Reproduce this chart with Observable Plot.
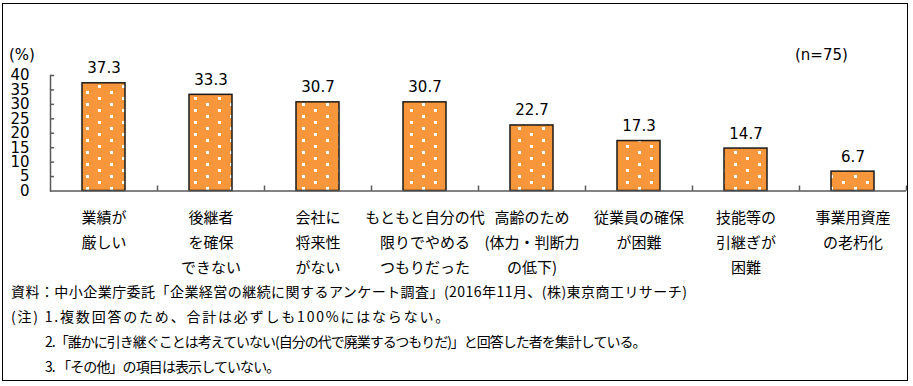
<!DOCTYPE html>
<html><head><meta charset="utf-8">
<script src="https://cdn.jsdelivr.net/npm/d3@7"></script>
<script src="https://cdn.jsdelivr.net/npm/@observablehq/plot@0.6"></script>
<style>
body{margin:0;background:#fff;}
#wrap{position:relative;width:913px;height:386px;overflow:hidden;font-family:"Noto Sans CJK JP",sans-serif;}
#border{position:absolute;left:2px;top:3px;width:906px;height:378px;border:1.5px solid #000;box-sizing:border-box;}
.t{position:absolute;white-space:nowrap;color:#000;line-height:20px;}
.f{font-size:14px;}
.n{font-family:"DejaVu Sans",sans-serif;font-size:15px;}
</style></head><body>
<div id="wrap">
 <div id="chart" style="position:absolute;left:0;top:0"></div>
 <div id="border"></div>
 <div class="t n" style="left:9px;top:45px">(%)</div>
 <div class="t n" style="left:795px;top:45px">(n=75)</div>
 <div class="t f" style="left:11px;top:281px;letter-spacing:0.45px">資料：中小企業庁委託「企業経営の継続に関するアンケート調査」(2016年11月、(株)東京商工リサーチ)</div>
 <div class="t f" style="left:11px;top:306px;letter-spacing:1.8px">(注) 1.複数回答のため、合計は必ずしも100%にはならない。</div>
 <div class="t f" style="left:45px;top:331px;letter-spacing:-1px">2.「誰かに引き継ぐことは考えていない(自分の代で廃業するつもりだ)」と回答した者を集計している。</div>
 <div class="t f" style="left:45px;top:356px;letter-spacing:-0.9px">3. 「その他」の項目は表示していない。</div>
</div>
<script>
const categories = [
  "業績が\n厳しい",
  "後継者\nを確保\nできない",
  "会社に\n将来性\nがない",
  "もともと自分の代\n限りでやめる\nつもりだった",
  "高齢のため\n(体力・判断力\nの低下)",
  "従業員の確保\nが困難",
  "技能等の\n引継ぎが\n困難",
  "事業用資産\nの老朽化"
];
const values = [37.3, 33.3, 30.7, 30.7, 22.7, 17.3, 14.7, 6.7];
const yTicks = [0, 5, 10, 15, 20, 25, 30, 35, 40];

const data = categories.map((c, i) => ({cat: c, value: values[i]}));

const W = 913, H = 285, mL = 50, mR = 7, mT = 75, mB = 94.5;
const frameW = W - mL - mR, frameH = H - mT - mB;
const step = frameW / categories.length;

const plot = Plot.plot({
  width: W, height: H,
  marginLeft: mL, marginRight: mR, marginTop: mT, marginBottom: mB,
  style: {fontFamily: "'DejaVu Sans', sans-serif", fontSize: "15px", color: "#000", background: "transparent"},
  x: {domain: categories, paddingInner: 0.6, paddingOuter: 0.3, label: null},
  y: {domain: [0, 40], label: null},
  marks: [
    Plot.barY(data, {x: "cat", y: "value", fill: "url(#dots)", stroke: "#1a1a1a", strokeWidth: 1.5}),
    Plot.text(data, {x: "cat", y: "value", text: d => d.value.toFixed(1), lineAnchor: "bottom", dy: -10, fontSize: 15, fill: "#000"}),
    Plot.tickY(yTicks.slice(1), {y: d => d, insetRight: frameW - 4, stroke: "#595959", strokeWidth: 1.5}),
    Plot.tickX(categories, {x: d => d, dx: step / 2, insetTop: frameH - 5, stroke: "#595959", strokeWidth: 1.5}),
    Plot.ruleY([0], {stroke: "#595959", strokeWidth: 1.5}),
    Plot.frame({anchor: "left", stroke: "#595959", strokeWidth: 1.5}),
    Plot.axisY({ticks: yTicks, tickSize: 0, tickPadding: 21, tickFormat: d => d, fontSize: 15, label: null}),
    Plot.axisX({tickSize: 0, tickPadding: 14, lineHeight: 1.68, fontSize: 15, fontFamily: "'Noto Sans CJK JP', sans-serif", label: null})
  ]
});

// dotted pattern for bars
const ns = "http://www.w3.org/2000/svg";
const defs = document.createElementNS(ns, "defs");
defs.innerHTML = `<pattern id="dots" patternUnits="userSpaceOnUse" width="24" height="12" x="2" y="1">
  <rect width="24" height="12" fill="#F7963A"/>
  <rect x="0" y="0" width="3" height="3" fill="#fff"/>
  <rect x="12" y="6" width="3" height="3" fill="#fff"/>
</pattern>`;
plot.insertBefore(defs, plot.firstChild);
document.getElementById("chart").appendChild(plot);
</script>
</body></html>
